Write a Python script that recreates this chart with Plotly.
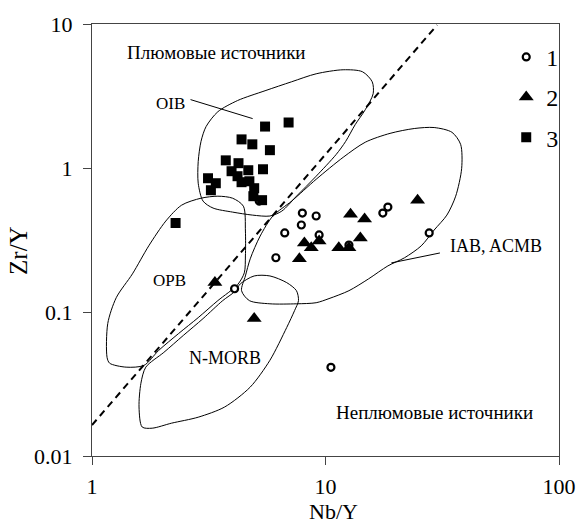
import plotly.graph_objects as go

# ---- data (Nb/Y, Zr/Y) ----
circles_x = [7.96, 9.12, 7.88, 6.69, 9.39, 6.13, 12.6, 17.6, 18.5, 27.8, 4.08, 10.55, 5.20]
circles_y = [0.486, 0.464, 0.402, 0.354, 0.343, 0.238, 0.292, 0.486, 0.535, 0.354, 0.145, 0.0413, 0.589]

triangles_x = [12.8, 14.7, 24.8, 14.1, 8.12, 8.69, 9.39, 11.4, 12.6, 7.73, 4.95, 3.36]
triangles_y = [0.478, 0.442, 0.598, 0.327, 0.302, 0.279, 0.311, 0.279, 0.279, 0.234, 0.090, 0.160]

squares_x = [5.51, 6.95, 4.37, 4.86, 5.78, 3.74, 4.24, 5.40, 4.67, 4.20, 3.14, 3.39,
             4.72, 4.37, 3.23, 4.95, 4.91, 5.35, 2.28, 3.96]
squares_y = [1.94, 2.07, 1.58, 1.46, 1.33, 1.13, 1.08, 0.98, 0.965, 0.877, 0.849, 0.784,
             0.809, 0.797, 0.701, 0.724, 0.637, 0.598, 0.415, 0.95]

# field outlines
oib_x = [2.99, 2.85, 2.85, 2.93, 3.08, 3.46, 4.20, 5.51, 7.16, 9.12, 11.9, 14.4, 15.85, 16.0,
         14.8, 13.4, 12.2, 11.1, 9.12, 7.51, 6.50, 5.78, 4.86, 4.0, 3.30, 2.99]
oib_y = [0.589, 0.784, 1.11, 1.53, 1.94, 2.46, 2.94, 3.44, 3.97, 4.51, 4.81, 4.66, 3.97, 3.28,
         2.54, 2.0, 1.53, 1.24, 0.877, 0.637, 0.502, 0.464, 0.471, 0.494, 0.527, 0.589]

opb_x = [1.16, 1.168, 1.27, 1.49, 1.75, 2.07, 2.42, 2.93, 3.46, 4.0, 4.45, 4.54, 4.54, 4.49,
         4.20, 3.46, 2.85, 2.35, 1.93, 1.67, 1.40, 1.19, 1.16]
opb_y = [0.0484, 0.0832, 0.1257, 0.184, 0.288, 0.428, 0.552, 0.617, 0.637, 0.617, 0.543, 0.365,
         0.245, 0.187, 0.1546, 0.12, 0.0914, 0.0709, 0.0541, 0.0426, 0.0414, 0.0441, 0.0484]

nmorb_x = [1.70, 2.03, 2.46, 2.99, 3.63, 4.08, 4.32, 4.95, 5.78, 6.82, 7.51, 7.66, 7.37, 6.82,
           5.78, 4.76, 3.70, 2.85, 2.19, 1.81, 1.64, 1.59, 1.62, 1.70]
nmorb_y = [0.0414, 0.0524, 0.0687, 0.090, 0.12, 0.1384, 0.157, 0.178, 0.178, 0.160, 0.1406, 0.12,
           0.1022, 0.078, 0.0462, 0.0301, 0.0219, 0.0186, 0.0169, 0.0156, 0.0159, 0.0219, 0.032, 0.0414]

iab_x = [4.37, 4.72, 5.78, 7.51, 9.12, 10.35, 12.6, 15.3, 18.5, 21.8, 25.7, 29.2, 33.1, 36.1,
         38.3, 37.9, 34.8, 29.2, 24.0, 18.9, 14.8, 11.9, 9.12, 7.16, 5.95, 5.25, 4.76, 4.54, 4.37]
iab_y = [0.1406, 0.12, 0.114, 0.114, 0.116, 0.1239, 0.1406, 0.170, 0.209, 0.238, 0.288, 0.371,
         0.471, 0.637, 0.995, 1.46, 1.77, 1.91, 1.88, 1.74, 1.51, 1.186, 0.835, 0.589, 0.464,
         0.337, 0.234, 0.178, 0.1406]

divider_x = [1.0, 30.06]
divider_y = [0.0164, 9.84]

x_ticks = [1, 10, 100]
x_ticktext = ["1", "10", "100"]
y_ticks = [0.01, 0.1, 1, 10]
y_ticktext = ["0.01", "0.1", "1", "10"]

FONT = "Liberation Serif"

fig = go.Figure()

for fx, fy in [(oib_x, oib_y), (opb_x, opb_y), (nmorb_x, nmorb_y), (iab_x, iab_y)]:
    fig.add_trace(go.Scatter(x=fx, y=fy, mode="lines",
                             line=dict(color="black", width=1, shape="spline", smoothing=0.8),
                             showlegend=False, hoverinfo="skip"))

fig.add_trace(go.Scatter(x=divider_x, y=divider_y, mode="lines",
                         line=dict(color="black", width=2, dash="7px,5px"),
                         showlegend=False, hoverinfo="skip"))

fig.add_trace(go.Scatter(x=circles_x, y=circles_y, mode="markers", name="1", legendgroup="1",
                         marker=dict(symbol="circle", size=7, color="white",
                                     line=dict(color="black", width=2.2))))
fig.add_trace(go.Scatter(x=triangles_x, y=triangles_y, mode="markers", name="2", legendgroup="2",
                         marker=dict(symbol="triangle-up", size=13, color="black", line=dict(width=0))))
fig.add_trace(go.Scatter(x=squares_x, y=squares_y, mode="markers", name="3", legendgroup="3",
                         marker=dict(symbol="square", size=10, color="black", line=dict(width=0))))

axis_common = dict(type="log", showgrid=False, zeroline=False, showline=True, mirror=True,
                   linecolor="#444", linewidth=1.2, ticks="outside", ticklen=8, tickcolor="#444",
                   ticklabeloverflow="allow",
                   tickfont=dict(family=FONT, size=22, color="black"))
fig.update_xaxes(range=[0, 2], tickvals=x_ticks, ticktext=x_ticktext, ticklabelstandoff=2, **axis_common)
fig.update_yaxes(range=[-2, 1], tickvals=y_ticks, ticktext=y_ticktext, ticklabelstandoff=6, **axis_common)


def ann(text, x, y, size, **kw):
    fig.add_annotation(text=text, x=x, y=y, xref="paper", yref="paper", showarrow=False,
                       xanchor="center", yanchor="middle",
                       font=dict(family=FONT, size=size, color="black"), **kw)


ann("Плюмовые источники", 0.266, 0.935, 19)
ann("Неплюмовые источники", 0.734, 0.101, 19)
ann("OIB", 0.169, 0.816, 17)
ann("OPB", 0.165, 0.406, 17)
ann("N-MORB", 0.285, 0.228, 18)
ann("IAB, ACMB", 0.865, 0.486, 18)
ann("Nb/Y", 0.517, -0.128, 22)
ann("Zr/Y", -0.156, 0.475, 25, textangle=-90)

fig.add_shape(type="line", xref="paper", yref="paper", x0=0.211, y0=0.825, x1=0.344, y1=0.781,
              line=dict(color="black", width=1))
fig.add_shape(type="line", xref="paper", yref="paper", x0=0.641, y0=0.447, x1=0.745, y1=0.470,
              line=dict(color="black", width=1))

fig.update_layout(
    width=588, height=525,
    margin=dict(l=92, r=22, t=22, b=69),
    plot_bgcolor="white", paper_bgcolor="white",
    showlegend=True,
    legend=dict(x=0.887, y=0.975, xanchor="left", yanchor="top", bgcolor="rgba(0,0,0,0)",
                font=dict(family=FONT, size=24, color="black"), tracegroupgap=6, itemwidth=30),
)

# remove the default 8px page margin so the 588x525 figure fills the window exactly
fig.write_html("out.html", config={"displayModeBar": False},
               post_script="document.body.style.margin='0';document.body.style.overflow='hidden';")
